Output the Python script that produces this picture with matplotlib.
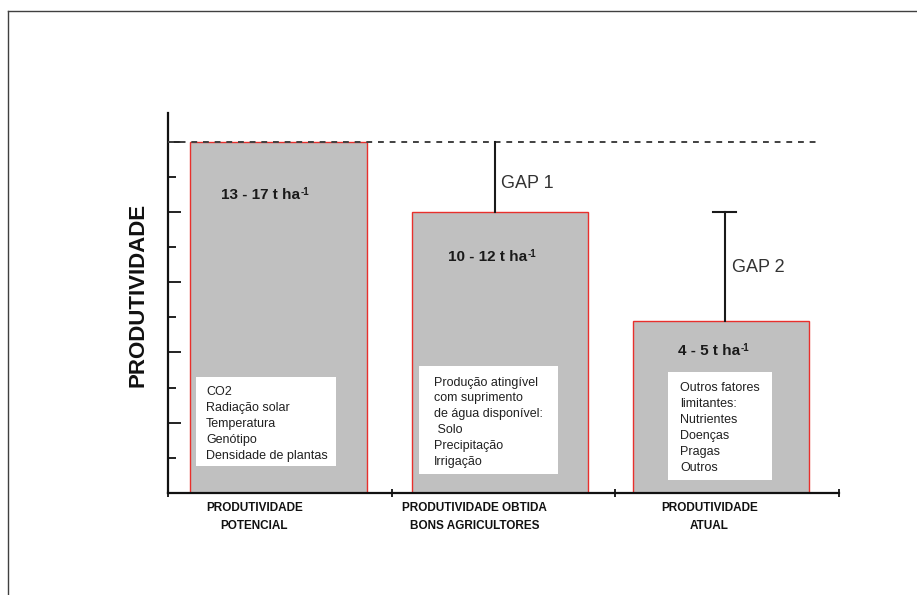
import matplotlib
matplotlib.use("Agg")
import matplotlib.pyplot as plt
import matplotlib.font_manager as fm
from matplotlib.lines import Line2D
from matplotlib.patches import Rectangle
import numpy as np

# ---------------- data ----------------
categories = ["PRODUTIVIDADE\nPOTENCIAL",
              "PRODUTIVIDADE OBTIDA\nBONS AGRICULTORES",
              "PRODUTIVIDADE\nATUAL"]
values = [10, 8, 4.9]                      # relative productivity (tick units)
range_labels = ["13 - 17 t ha", "10 - 12 t ha", "4 - 5 t ha"]
unit_exponent = "-1"
factors = [
    ["CO2", "Radiação solar", "Temperatura", "Genótipo", "Densidade de plantas"],
    ["Produção atingível", "com suprimento", "de água disponível:", " Solo",
     "Precipitação", "Irrigação"],
    ["Outros fatores", "limitantes:", "Nutrientes", "Doenças", "Pragas", "Outros"],
]
gap_labels = ["GAP 1", "GAP 2"]
ylabel = "PRODUTIVIDADE"

# ---------------- fonts ----------------
avail = {f.name for f in fm.fontManager.ttflist}
SANS = "Liberation Sans" if "Liberation Sans" in avail else "DejaVu Sans"
if "Liberation Sans Narrow" in avail:
    NARROW, NARROW_SIZE = "Liberation Sans Narrow", 10.5
else:
    NARROW, NARROW_SIZE = SANS, 8.5
plt.rcParams["font.family"] = [SANS, "DejaVu Sans"]

# ---------------- layout ----------------
W, H = 917, 595
DPI = 100
PXY = 35.13                       # pixels per y unit
fig = plt.figure(figsize=(W / DPI, H / DPI), dpi=DPI)
fig.patch.set_facecolor("white")
ax = fig.add_axes([168 / W, (H - 493) / H, 671 / W, 380 / H])
ax.set_xlim(0, 3)
ax.set_ylim(0, 380 / PXY)

# outer frame (top and left lines)
fig.add_artist(Line2D([8 / W, 1.0], [1 - 11 / H, 1 - 11 / H],
                      transform=fig.transFigure, color="#404040", lw=1.0))
fig.add_artist(Line2D([8 / W, 8 / W], [1 - 11 / H, 0.0],
                      transform=fig.transFigure, color="#404040", lw=1.0))

# bars
idx = np.arange(len(values))
xpos = idx * 0.99 + 0.494
width = 0.787
ax.bar(xpos, values, width=width, color="#c0c0c0", edgecolor="#e8302c",
       linewidth=1.0, zorder=2)

# dashed potential line
ax.plot([0, 2.906], [values[0], values[0]], color="#404040", lw=1.4,
        dashes=(3, 3), zorder=3, clip_on=False)

# gap lines
gap_x = [1.462, 2.490]
ax.plot([gap_x[0], gap_x[0]], [values[1], values[0]], color="#1a1a1a", lw=1.5, zorder=3)
ax.plot([gap_x[1], gap_x[1]], [values[2], values[1]], color="#1a1a1a", lw=1.5, zorder=3)
ax.plot([gap_x[1] - 0.0514, gap_x[1] + 0.0514], [values[1], values[1]],
        color="#1a1a1a", lw=1.5, zorder=3)
gap_text_pos = [(1.487, 8.824), (2.520, 6.413)]
for (gx, gy), lab in zip(gap_text_pos, gap_labels):
    ax.text(gx, gy, lab, ha="left", va="center", fontsize=13,
            color="#333333")

# range labels with superscript exponent
renderer = fig.canvas.get_renderer()
range_pos = [(0.2356, 8.38), (1.253, 6.618), (2.278, 3.942)]
for (rx, ry), lab in zip(range_pos, range_labels):
    t = ax.text(rx, ry, lab, ha="left", va="baseline",
                fontsize=11, fontweight="bold", color="#1a1a1a", zorder=5)
    bb = t.get_window_extent(renderer)
    x_anchor = ax.transData.transform((rx, ry))[0]
    dx_pt = (bb.x1 - x_anchor) * 72 / DPI
    ax.annotate(unit_exponent, xy=(rx, ry), xycoords="data",
                xytext=(dx_pt + 0.5, 2.6), textcoords="offset points",
                ha="left", va="baseline", fontsize=7, fontweight="bold",
                color="#1a1a1a", zorder=5)

# white factor boxes
boxes = [(0.125, 0.749, 0.77, 3.30), (1.122, 1.745, 0.532, 3.615),
         (2.236, 2.699, 0.370, 3.453)]
text_start = [(0.170, 2.784), (1.189, 3.060), (2.289, 2.898)]
pitch = 0.455
for (x0, x1, y0, y1), (tx, ty), lines in zip(boxes, text_start, factors):
    ax.add_patch(Rectangle((x0, y0), x1 - x0, y1 - y0, facecolor="white",
                           edgecolor="none", zorder=4))
    for i, ln in enumerate(lines):
        ax.text(tx, ty - i * pitch, ln, ha="left", va="baseline", fontsize=9,
                color="#202020", zorder=5)

# category labels below the axis
cat_x = [0.386, 1.370, 2.42]
for cx, lab in zip(cat_x, categories):
    for i, ln in enumerate(lab.split("\n")):
        ax.text(cx, -0.52 - i * 0.51, ln, ha="center", va="baseline",
                fontsize=NARROW_SIZE, fontweight="bold", color="#111111",
                family=[NARROW, "DejaVu Sans"], clip_on=False)

# y label
ax.text(-30 / 671, (493 - 295) / 380, ylabel, transform=ax.transAxes,
        rotation=90, ha="center", va="center", fontsize=16,
        fontweight="bold", color="#111111")

# spines & ticks
for s in ("top", "right"):
    ax.spines[s].set_visible(False)
for s in ("left", "bottom"):
    ax.spines[s].set_linewidth(1.6)
    ax.spines[s].set_color("#111111")
ax.set_xticks([0, 1, 2, 3])
ax.set_xticklabels([])
ax.tick_params(axis="x", direction="inout", length=5.8, width=1.3, color="#111111")
ax.set_yticks([2, 4, 6, 8, 10])
ax.set_yticks([1, 3, 5, 7, 9], minor=True)
ax.set_yticklabels([])
ax.tick_params(axis="y", which="major", direction="in", length=9.4, width=1.3,
               color="#111111")
ax.tick_params(axis="y", which="minor", direction="in", length=5.8, width=1.3,
               color="#111111")

fig.savefig("out.png", dpi=DPI)
